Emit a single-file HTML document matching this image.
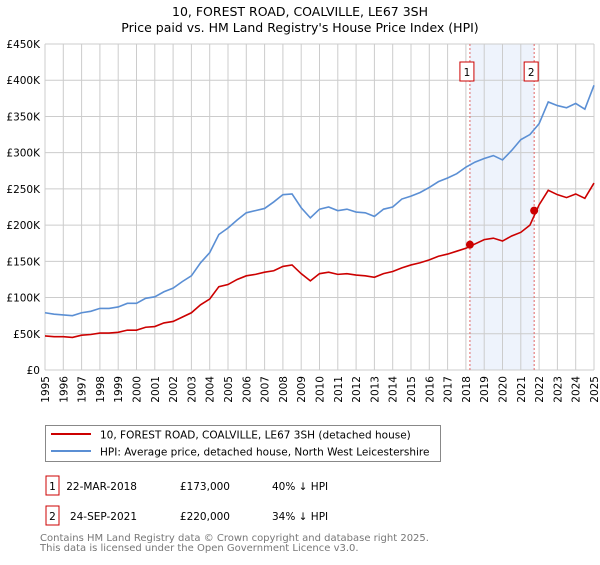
<!DOCTYPE html>
<html><head><meta charset="utf-8"><style>
body{margin:0;background:#fff;font-family:"Liberation Sans","DejaVu Sans",sans-serif;}
svg text{font-family:"DejaVu Sans","Liberation Sans",sans-serif;}
</style></head><body>
<svg width="600" height="560" xmlns="http://www.w3.org/2000/svg">
<text x="300" y="16" text-anchor="middle" font-size="12.5" fill="#000">10, FOREST ROAD, COALVILLE, LE67 3SH</text>
<text x="300" y="32" text-anchor="middle" font-size="12.5" fill="#000">Price paid vs. HM Land Registry's House Price Index (HPI)</text>
<g id="plot"></g>
<g>
<rect x="45.5" y="425.5" width="395" height="36" fill="#fff" stroke="#888"/>
<line x1="51" y1="434" x2="91" y2="434" stroke="#cc0000" stroke-width="2"/>
<text x="100" y="438.5" font-size="10.5">10, FOREST ROAD, COALVILLE, LE67 3SH (detached house)</text>
<line x1="51" y1="451" x2="91" y2="451" stroke="#5b8fd4" stroke-width="2"/>
<text x="100" y="455.5" font-size="10.5">HPI: Average price, detached house, North West Leicestershire</text>
</g>
<g font-size="10.5">
<rect x="46" y="476" width="13" height="19" fill="#fff" stroke="#cc0000"/>
<text x="52.5" y="490" text-anchor="middle">1</text>
<text x="137" y="490" text-anchor="end">22-MAR-2018</text>
<text x="230" y="490" text-anchor="end">£173,000</text>
<text x="272" y="490">40% ↓ HPI</text>
<rect x="46" y="506" width="13" height="19" fill="#fff" stroke="#cc0000"/>
<text x="52.5" y="520" text-anchor="middle">2</text>
<text x="137" y="520" text-anchor="end">24-SEP-2021</text>
<text x="230" y="520" text-anchor="end">£220,000</text>
<text x="272" y="520">34% ↓ HPI</text>
</g>
<text x="40" y="541" font-size="10" fill="#777">Contains HM Land Registry data © Crown copyright and database right 2025.</text>
<text x="40" y="551" font-size="10" fill="#777">This data is licensed under the Open Government Licence v3.0.</text>
</svg>
<script>
const years=[1995,1995.5,1996,1996.5,1997,1997.5,1998,1998.5,1999,1999.5,2000,2000.5,2001,2001.5,2002,2002.5,2003,2003.5,2004,2004.5,2005,2005.5,2006,2006.5,2007,2007.5,2008,2008.5,2009,2009.5,2010,2010.5,2011,2011.5,2012,2012.5,2013,2013.5,2014,2014.5,2015,2015.5,2016,2016.5,2017,2017.5,2018,2018.5,2019,2019.5,2020,2020.5,2021,2021.5,2022,2022.5,2023,2023.5,2024,2024.5,2025];
const hpiValues=[79,77,76,75,79,81,85,85,87,92,92,99,101,108,113,122,130,148,162,187,196,207,217,220,223,232,242,243,224,210,222,225,220,222,218,217,212,222,225,236,240,245,252,260,265,271,280,287,292,296,290,303,318,325,340,370,365,362,368,360,393];
const priceValues=[47,46,46,45,48,49,51,51,52,55,55,59,60,65,67,73,79,90,98,115,118,125,130,132,135,137,143,145,133,123,133,135,132,133,131,130,128,133,136,141,145,148,152,157,160,164,168,174,180,182,178,185,190,200,228,248,242,238,243,237,258];
const saleDates=[2018.22,2021.73];
const salePrices=[173,220];
const saleLabels=["1","2"];
const yTicks=[0,50,100,150,200,250,300,350,400,450];
const yTickLabels=["£0","£50K","£100K","£150K","£200K","£250K","£300K","£350K","£400K","£450K"];
const xTicks=[1995,1996,1997,1998,1999,2000,2001,2002,2003,2004,2005,2006,2007,2008,2009,2010,2011,2012,2013,2014,2015,2016,2017,2018,2019,2020,2021,2022,2023,2024,2025];

const X0=45,X1=594,Y0=370,Y1=44;
const xs=y=>X0+(y-1995)/30*(X1-X0);
const ys=v=>Y0-v/450*(Y0-Y1);
const NS="http://www.w3.org/2000/svg";
const g=document.getElementById('plot');
function mk(t,a){const e=document.createElementNS(NS,t);for(const k in a)e.setAttribute(k,a[k]);g.appendChild(e);return e;}
const band=mk('rect',{x:xs(saleDates[0]),y:Y1,width:xs(saleDates[1])-xs(saleDates[0]),height:Y0-Y1,fill:'#eef3fc'});


xTicks.forEach(t=>{const l=mk('line',{x1:xs(t),x2:xs(t),y1:Y1,y2:Y0,stroke:'#ccc'});


const tx=mk('text',{x:0,y:0,'font-size':'10.5','text-anchor':'end',transform:`translate(${xs(t)+4},376) rotate(-90)`});tx.textContent=t;

});
yTicks.forEach((t,i)=>{const l=mk('line',{x1:X0,x2:X1,y1:ys(t),y2:ys(t),stroke:'#ccc'});


const tx=mk('text',{x:40,y:ys(t)+4,'font-size':'10.5','text-anchor':'end'});tx.textContent=yTickLabels[i];

});
saleDates.forEach((d,i)=>{const l=mk('line',{x1:xs(d),x2:xs(d),y1:Y1,y2:Y0,stroke:'#e06666','stroke-dasharray':'2,2'});


const r=mk('rect',{x:xs(d)-10,y:62,width:14,height:19,fill:'#fff',stroke:'#cc0000'});


const tx=mk('text',{x:xs(d)-3,y:76,'font-size':'10.5','text-anchor':'middle'});tx.textContent=saleLabels[i];

});
const hp=mk('path',{d:years.map((y,i)=>(i?'L':'M')+xs(y)+','+ys(hpiValues[i])).join(''),fill:'none',stroke:'#5b8fd4','stroke-width':1.6});


const pp=mk('path',{d:years.map((y,i)=>(i?'L':'M')+xs(y)+','+ys(priceValues[i])).join(''),fill:'none',stroke:'#cc0000','stroke-width':1.6});


saleDates.forEach((d,i)=>{const c=mk('circle',{cx:xs(d),cy:ys(salePrices[i]),r:4,fill:'#cc0000'});

});
</script>
</body></html>
